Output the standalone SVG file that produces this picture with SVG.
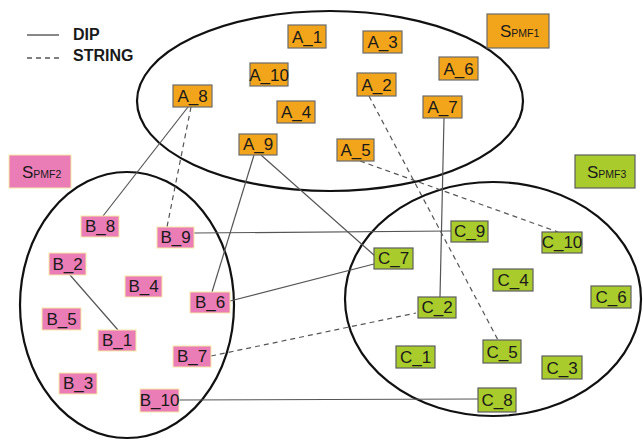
<svg xmlns="http://www.w3.org/2000/svg" width="643" height="440" viewBox="0 0 643 440">
  <style>
    .set { fill: none; stroke: #111; stroke-width: 2.2; }
    .dip { stroke: #555; stroke-width: 1.2; fill: none; }
    .str { stroke: #555; stroke-width: 1.2; fill: none; stroke-dasharray: 5 4; }
    .a rect { fill: #F2A51A; stroke: #6b6b6b; stroke-width: 1.2; }
    .b rect { fill: #EA7CB6; stroke: #F6E9A6; stroke-width: 1; }
    .c rect { fill: #A9CB2C; stroke: #5e5e5e; stroke-width: 1.2; }
    text { font-family: "Liberation Sans", Arial, sans-serif; fill: #1a1a1a; }
    .lbl { font-size: 17px; text-anchor: middle; }
    .leg { font-size: 16px; font-weight: bold; }
    .big { font-size: 17px; }
    .sub { font-size: 10.5px; }
  </style>

  <!-- legend -->
  <g id="legend">
    <line x1="27" y1="35" x2="59" y2="35" stroke="#555" stroke-width="1.4"/>
    <line x1="27" y1="58" x2="59" y2="58" stroke="#555" stroke-width="1.4" stroke-dasharray="5 4"/>
    <text class="leg" x="73" y="40">DIP</text>
    <text class="leg" x="73" y="61">STRING</text>
  </g>

  <!-- set boundaries -->
  <g id="sets">
    <ellipse class="set" cx="330" cy="101" rx="193" ry="90"/>
    <ellipse class="set" cx="127" cy="305" rx="107" ry="133"/>
    <ellipse class="set" cx="493" cy="299" rx="148" ry="117"/>
  </g>

  <!-- connectors -->
  <g id="connectors">
    <line class="dip" x1="188" y1="107" x2="103" y2="216"/>
    <line class="dip" x1="254" y1="155" x2="212" y2="292"/>
    <line class="dip" x1="261" y1="155" x2="375" y2="256"/>
    <line class="dip" x1="70" y1="275" x2="118" y2="330"/>
    <line class="dip" x1="194" y1="233" x2="451" y2="231"/>
    <line class="dip" x1="230" y1="301" x2="374" y2="264"/>
    <line class="dip" x1="444" y1="118" x2="440" y2="297"/>
    <line class="dip" x1="179" y1="400" x2="478" y2="399"/>
    <line class="str" x1="191" y1="107" x2="167" y2="227"/>
    <line class="str" x1="369" y1="96" x2="498" y2="340"/>
    <line class="str" x1="360" y1="161" x2="558" y2="232"/>
    <line class="str" x1="211" y1="356" x2="416" y2="313"/>
  </g>

  <!-- set S_PMF1 -->
  <g id="SPMF1" class="a"><rect x="487" y="14" width="62" height="34"/><text x="500" y="37"><tspan class="big">S</tspan><tspan class="sub">PMF1</tspan></text></g>
  <g id="A_1" class="a"><rect x="288" y="25" width="38" height="23"/><text class="lbl" x="307" y="43">A_1</text></g>
  <g id="A_3" class="a"><rect x="363" y="31" width="39" height="22"/><text class="lbl" x="382.5" y="48">A_3</text></g>
  <g id="A_10" class="a"><rect x="250" y="63" width="38" height="23"/><text class="lbl" x="269" y="81">A_10</text></g>
  <g id="A_6" class="a"><rect x="439" y="57" width="39" height="23"/><text class="lbl" x="458.5" y="75">A_6</text></g>
  <g id="A_2" class="a"><rect x="357" y="73" width="39" height="23"/><text class="lbl" x="376.5" y="91">A_2</text></g>
  <g id="A_8" class="a"><rect x="173" y="85" width="39" height="22"/><text class="lbl" x="192.5" y="102">A_8</text></g>
  <g id="A_7" class="a"><rect x="423" y="96" width="39" height="22"/><text class="lbl" x="442.5" y="113">A_7</text></g>
  <g id="A_4" class="a"><rect x="277" y="101" width="38" height="22"/><text class="lbl" x="296" y="118">A_4</text></g>
  <g id="A_9" class="a"><rect x="239" y="134" width="38" height="21"/><text class="lbl" x="258" y="150">A_9</text></g>
  <g id="A_5" class="a"><rect x="337" y="139" width="37" height="22"/><text class="lbl" x="355.5" y="156">A_5</text></g>

  <!-- set S_PMF2 -->
  <g id="SPMF2" class="b"><rect x="9" y="155" width="62" height="33" stroke="#666"/><text x="22" y="178"><tspan class="big">S</tspan><tspan class="sub">PMF2</tspan></text></g>
  <g id="B_8" class="b"><rect x="81" y="216" width="38" height="21"/><text class="lbl" x="100" y="232">B_8</text></g>
  <g id="B_9" class="b"><rect x="157" y="227" width="37" height="21"/><text class="lbl" x="175.5" y="243">B_9</text></g>
  <g id="B_2" class="b"><rect x="49" y="253" width="37" height="22"/><text class="lbl" x="67.5" y="270">B_2</text></g>
  <g id="B_4" class="b"><rect x="125" y="276" width="37" height="21"/><text class="lbl" x="143.5" y="292">B_4</text></g>
  <g id="B_6" class="b"><rect x="190" y="292" width="40" height="21"/><text class="lbl" x="210" y="308">B_6</text></g>
  <g id="B_5" class="b"><rect x="42" y="308" width="39" height="22"/><text class="lbl" x="61.5" y="325">B_5</text></g>
  <g id="B_1" class="b"><rect x="98" y="330" width="38" height="21"/><text class="lbl" x="117" y="346">B_1</text></g>
  <g id="B_7" class="b"><rect x="173" y="346" width="38" height="21"/><text class="lbl" x="192" y="362">B_7</text></g>
  <g id="B_3" class="b"><rect x="59" y="373" width="38" height="21"/><text class="lbl" x="78" y="389">B_3</text></g>
  <g id="B_10" class="b"><rect x="140" y="389" width="39" height="23"/><text class="lbl" x="159.5" y="406">B_10</text></g>

  <!-- set S_PMF3 -->
  <g id="SPMF3" class="c"><rect x="575" y="155" width="60" height="33"/><text x="587" y="178"><tspan class="big">S</tspan><tspan class="sub">PMF3</tspan></text></g>
  <g id="C_9" class="c"><rect x="451" y="221" width="37" height="21"/><text class="lbl" x="469.5" y="237">C_9</text></g>
  <g id="C_10" class="c"><rect x="542" y="232" width="40" height="21"/><text class="lbl" x="562" y="248">C_10</text></g>
  <g id="C_7" class="c"><rect x="374" y="248" width="39" height="21"/><text class="lbl" x="393.5" y="264">C_7</text></g>
  <g id="C_4" class="c"><rect x="493" y="269" width="40" height="22"/><text class="lbl" x="513" y="286">C_4</text></g>
  <g id="C_6" class="c"><rect x="591" y="286" width="40" height="22"/><text class="lbl" x="611" y="303">C_6</text></g>
  <g id="C_2" class="c"><rect x="418" y="297" width="38" height="21"/><text class="lbl" x="437" y="313">C_2</text></g>
  <g id="C_5" class="c"><rect x="483" y="340" width="38" height="23"/><text class="lbl" x="502" y="358">C_5</text></g>
  <g id="C_1" class="c"><rect x="396" y="346" width="39" height="22"/><text class="lbl" x="415.5" y="363">C_1</text></g>
  <g id="C_3" class="c"><rect x="542" y="356" width="40" height="23"/><text class="lbl" x="562" y="374">C_3</text></g>
  <g id="C_8" class="c"><rect x="478" y="388" width="38" height="24"/><text class="lbl" x="497" y="406">C_8</text></g>
</svg>
